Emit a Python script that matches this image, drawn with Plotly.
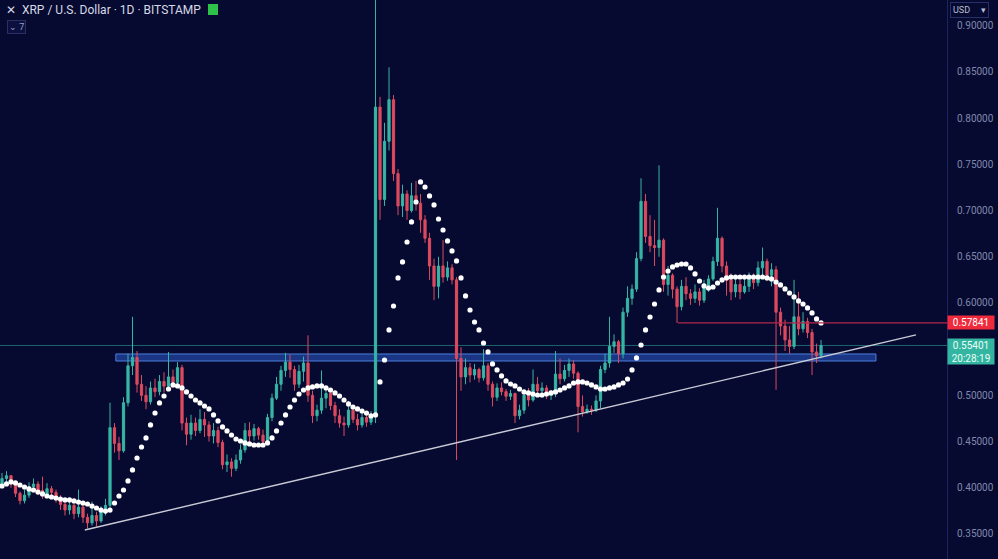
import plotly.graph_objects as go

# ---- data (2-day candles, price in USD) ----
first_open = 0.404
closes = [
    0.410, 0.413, 0.405, 0.394, 0.386, 0.392, 0.401, 0.404, 0.397, 0.393,
    0.399, 0.395, 0.388, 0.382, 0.376, 0.381, 0.372, 0.379, 0.368, 0.362,
    0.370, 0.364, 0.374, 0.381, 0.465, 0.448, 0.440, 0.492, 0.532, 0.541,
    0.512, 0.500, 0.493, 0.508, 0.504, 0.515, 0.510, 0.520, 0.514, 0.530,
    0.470, 0.458, 0.470, 0.462, 0.474, 0.468, 0.456, 0.462, 0.449, 0.425,
    0.428, 0.421, 0.430, 0.441, 0.462, 0.456, 0.464, 0.457, 0.450, 0.476,
    0.497, 0.512, 0.527, 0.536, 0.528, 0.512, 0.526, 0.535, 0.500, 0.478,
    0.484, 0.497, 0.502, 0.489, 0.478, 0.470, 0.468, 0.484, 0.474, 0.468,
    0.476, 0.471, 0.478, 0.812, 0.712, 0.775, 0.820, 0.740, 0.705, 0.718,
    0.700, 0.716, 0.708, 0.690, 0.670, 0.640, 0.618, 0.640, 0.628, 0.638,
    0.625, 0.540, 0.520, 0.530, 0.522, 0.528, 0.519, 0.532, 0.512, 0.498,
    0.508, 0.504, 0.499, 0.502, 0.478, 0.484, 0.500, 0.495, 0.512, 0.505,
    0.508, 0.500, 0.502, 0.523, 0.518, 0.527, 0.534, 0.524, 0.488, 0.482,
    0.485, 0.484, 0.494, 0.528, 0.535, 0.553, 0.558, 0.545, 0.590, 0.605,
    0.615, 0.648, 0.710, 0.672, 0.662, 0.660, 0.668, 0.620, 0.630, 0.615,
    0.596, 0.618, 0.610, 0.605, 0.612, 0.603, 0.618, 0.626, 0.645, 0.670,
    0.640, 0.625, 0.612, 0.620, 0.612, 0.618, 0.628, 0.622, 0.638, 0.645,
    0.630, 0.636, 0.590, 0.575, 0.560, 0.553, 0.585, 0.572, 0.580, 0.568,
    0.547, 0.543, 0.554,
]
highs = [
    0.416, 0.418, 0.414, 0.407, 0.396, 0.398, 0.406, 0.410, 0.407, 0.412,
    0.405, 0.402, 0.398, 0.392, 0.386, 0.385, 0.383, 0.398, 0.382, 0.372,
    0.385, 0.374, 0.380, 0.388, 0.492, 0.470, 0.455, 0.498, 0.545, 0.585,
    0.548, 0.522, 0.510, 0.515, 0.518, 0.522, 0.525, 0.547, 0.528, 0.536,
    0.533, 0.476, 0.479, 0.476, 0.485, 0.482, 0.472, 0.470, 0.466, 0.452,
    0.436, 0.432, 0.436, 0.447, 0.470, 0.471, 0.469, 0.466, 0.463, 0.480,
    0.502, 0.520, 0.532, 0.546, 0.544, 0.532, 0.533, 0.542, 0.565, 0.505,
    0.490, 0.527, 0.510, 0.506, 0.493, 0.485, 0.477, 0.494, 0.489, 0.480,
    0.482, 0.480, 0.483, 0.938, 0.823, 0.795, 0.855, 0.825, 0.745, 0.728,
    0.722, 0.730, 0.732, 0.718, 0.695, 0.676, 0.648, 0.650, 0.668, 0.645,
    0.642, 0.628, 0.552, 0.540, 0.535, 0.534, 0.530, 0.550, 0.535, 0.515,
    0.513, 0.514, 0.507, 0.506, 0.503, 0.490, 0.505, 0.508, 0.528, 0.520,
    0.514, 0.511, 0.506, 0.548, 0.540, 0.533, 0.540, 0.538, 0.526, 0.500,
    0.490, 0.489, 0.500, 0.532, 0.545, 0.585, 0.566, 0.560, 0.595, 0.618,
    0.620, 0.655, 0.735, 0.718, 0.695, 0.690, 0.749, 0.670, 0.640, 0.632,
    0.618, 0.625, 0.628, 0.615, 0.620, 0.616, 0.625, 0.630, 0.650, 0.703,
    0.672, 0.645, 0.632, 0.628, 0.625, 0.630, 0.633, 0.632, 0.645, 0.660,
    0.648, 0.643, 0.640, 0.595, 0.582, 0.575, 0.625, 0.612, 0.590, 0.584,
    0.572, 0.556, 0.560,
]
lows = [
    0.401, 0.405, 0.400, 0.390, 0.382, 0.383, 0.389, 0.397, 0.392, 0.388,
    0.389, 0.388, 0.384, 0.376, 0.370, 0.371, 0.366, 0.368, 0.362, 0.356,
    0.359, 0.358, 0.362, 0.370, 0.378, 0.438, 0.430, 0.438, 0.488, 0.522,
    0.503, 0.494, 0.485, 0.490, 0.498, 0.500, 0.503, 0.506, 0.508, 0.512,
    0.462, 0.446, 0.452, 0.456, 0.459, 0.455, 0.450, 0.448, 0.444, 0.420,
    0.417, 0.412, 0.418, 0.426, 0.438, 0.450, 0.451, 0.452, 0.446, 0.447,
    0.472, 0.495, 0.505, 0.520, 0.519, 0.505, 0.508, 0.515, 0.493, 0.470,
    0.472, 0.480, 0.486, 0.484, 0.470, 0.465, 0.456, 0.465, 0.470, 0.462,
    0.465, 0.466, 0.468, 0.470, 0.690, 0.705, 0.765, 0.732, 0.695, 0.693,
    0.690, 0.698, 0.700, 0.676, 0.665, 0.625, 0.603, 0.605, 0.622, 0.624,
    0.620, 0.430, 0.505, 0.512, 0.514, 0.517, 0.514, 0.516, 0.505, 0.488,
    0.494, 0.500, 0.494, 0.495, 0.470, 0.474, 0.480, 0.488, 0.493, 0.500,
    0.498, 0.496, 0.495, 0.498, 0.512, 0.515, 0.520, 0.518, 0.460, 0.477,
    0.480, 0.479, 0.482, 0.486, 0.524, 0.530, 0.546, 0.535, 0.540, 0.585,
    0.598, 0.612, 0.645, 0.665, 0.655, 0.640, 0.650, 0.612, 0.608, 0.605,
    0.5784, 0.592, 0.603, 0.598, 0.600, 0.597, 0.600, 0.612, 0.624, 0.640,
    0.633, 0.608, 0.603, 0.606, 0.604, 0.610, 0.612, 0.615, 0.618, 0.630,
    0.624, 0.618, 0.506, 0.565, 0.548, 0.545, 0.550, 0.565, 0.568, 0.562,
    0.522, 0.535, 0.540,
]
# moving average (white dotted/solid curve)
ma_values = [
    0.4019, 0.4041, 0.4063, 0.4052, 0.4030, 0.4008, 0.3987, 0.3976, 0.3954, 0.3933,
    0.3911, 0.3900, 0.3889, 0.3878, 0.3868, 0.3868, 0.3857, 0.3846, 0.3835, 0.3824,
    0.3802, 0.3781, 0.3759, 0.3748, 0.3759, 0.3835, 0.3911, 0.3976, 0.4074, 0.4193,
    0.4322, 0.4441, 0.4539, 0.4680, 0.4809, 0.4918, 0.4993, 0.5069, 0.5113, 0.5102,
    0.5080, 0.5037, 0.4993, 0.4950, 0.4918, 0.4885, 0.4853, 0.4788, 0.4723, 0.4658,
    0.4615, 0.4571, 0.4528, 0.4506, 0.4485, 0.4474, 0.4463, 0.4463, 0.4463, 0.4485,
    0.4539, 0.4615, 0.4701, 0.4788, 0.4874, 0.4950, 0.5015, 0.5058, 0.5080, 0.5091,
    0.5102, 0.5102, 0.5080, 0.5058, 0.5026, 0.4993, 0.4950, 0.4907, 0.4874, 0.4853,
    0.4831, 0.4809, 0.4777, 0.4788, 0.5145, 0.5383, 0.5708, 0.5967, 0.6271, 0.6444,
    0.6660, 0.6877, 0.7093, 0.7310, 0.7255, 0.7158, 0.7061, 0.6909, 0.6790, 0.6671,
    0.6563, 0.6455, 0.6271, 0.6076, 0.5924, 0.5794, 0.5708, 0.5567, 0.5470, 0.5340,
    0.5275, 0.5210, 0.5156, 0.5123, 0.5102, 0.5069, 0.5037, 0.5026, 0.5015, 0.5004,
    0.5004, 0.5015, 0.5026, 0.5037, 0.5058, 0.5080, 0.5102, 0.5134, 0.5145, 0.5145,
    0.5134, 0.5113, 0.5091, 0.5069, 0.5069, 0.5080, 0.5091, 0.5113, 0.5134, 0.5177,
    0.5275, 0.5405, 0.5545, 0.5708, 0.5848, 0.5989, 0.6141, 0.6281, 0.6346, 0.6390,
    0.6411, 0.6422, 0.6422, 0.6379, 0.6314, 0.6238, 0.6184, 0.6162, 0.6173, 0.6216,
    0.6249, 0.6271, 0.6281, 0.6281, 0.6281, 0.6281, 0.6281, 0.6281, 0.6281, 0.6281,
    0.6271, 0.6260, 0.6227, 0.6195, 0.6152, 0.6108, 0.6065, 0.6022, 0.5989, 0.5946,
    0.5892, 0.5827, 0.5784,
]
opens = [first_open] + closes[:-1]
bars = list(range(len(closes)))

# drawings on the chart (bar index, price)
trend_start = (18.4, 0.3543)
trend_end = (203.1, 0.5654)
zone_x = (25.3, 194.2)
zone_price = (0.5372, 0.5448)
resistance_price = 0.57841
resistance_start = 150.2
last_price = 0.55401
countdown = "20:28:19"
ytick_vals = [0.35, 0.40, 0.45, 0.50, 0.60, 0.65, 0.70, 0.75, 0.80, 0.85, 0.90]
ytick_text = ["%.5f" % v for v in ytick_vals]

BG = "#070a30"
FONT = "Roboto, Arial, sans-serif"
X_RANGE = [-0.444, 209.99]

fig = go.Figure()
fig.add_trace(go.Candlestick(
    x=bars, open=opens, high=highs, low=lows, close=closes,
    increasing=dict(line=dict(color="#36b5a4", width=1), fillcolor="#36b5a4"),
    decreasing=dict(line=dict(color="#dc4a5f", width=1), fillcolor="#dc4a5f"),
    showlegend=False, hoverinfo="skip",
))
fig.add_trace(go.Scatter(
    x=bars, y=ma_values, mode="markers",
    marker=dict(size=5.2, color="white", line=dict(width=0)),
    showlegend=False, hoverinfo="skip",
))

shapes = [
    # current price line
    dict(type="line", xref="paper", x0=0, x1=1, yref="y", y0=last_price, y1=last_price,
         line=dict(color="rgba(47,179,162,0.55)", width=1), layer="below"),
    # support zone
    dict(type="rect", xref="x", x0=zone_x[0], x1=zone_x[1], yref="y",
         y0=zone_price[0], y1=zone_price[1],
         fillcolor="rgba(40,90,200,0.55)", line=dict(color="#4b7fdc", width=1), layer="below"),
    # resistance line
    dict(type="line", xref="x", x0=resistance_start, x1=X_RANGE[1], yref="y",
         y0=resistance_price, y1=resistance_price, line=dict(color="#b3264a", width=1.2)),
    # trend line
    dict(type="line", xref="x", yref="y", x0=trend_start[0], y0=trend_start[1],
         x1=trend_end[0], y1=trend_end[1], line=dict(color="#c9cad6", width=1.4)),
    # flag icon
    dict(type="rect", xref="paper", yref="paper", x0=208 / 947, x1=218 / 947,
         y0=1 - 15 / 559, y1=1 - 4 / 559, fillcolor="#2fc24b", line=dict(width=0)),
]

annotations = [
    dict(xref="paper", yref="paper", x=0.004, y=1 - 10 / 559, xanchor="left", yanchor="middle",
         text="✕  XRP / U.S. Dollar · 1D · BITSTAMP", showarrow=False,
         font=dict(family=FONT, size=12, color="#d6d9e6")),
    dict(xref="paper", yref="paper", x=0.007, y=1 - 27 / 559, xanchor="left", yanchor="middle",
         text="⌄ 7", showarrow=False, font=dict(family=FONT, size=9, color="#9aa0c0"),
         bordercolor="#2a2f5e", borderwidth=1, borderpad=1, bgcolor="#0c1040"),
    dict(xref="paper", yref="paper", x=1.003, y=1 - 10 / 559, xanchor="left", yanchor="middle",
         text="USD&nbsp;&nbsp;&nbsp;&nbsp;&nbsp;▾", showarrow=False, align="left",
         font=dict(family=FONT, size=9, color="#b8bdd6"),
         bordercolor="#263066", borderwidth=1, borderpad=2, bgcolor=BG),
    dict(xref="paper", yref="y", x=1.0, y=resistance_price, xanchor="left", yanchor="middle",
         text=("%.5f" % resistance_price), showarrow=False, width=44, height=11,
         font=dict(family=FONT, size=10, color="white"), bgcolor="#ef2a3c", borderpad=1),
    dict(xref="paper", yref="y", x=1.0, y=last_price + 0.0085, xanchor="left", yanchor="top",
         text=("%.5f" % last_price) + "<br>" + countdown, showarrow=False, width=44, height=23,
         font=dict(family=FONT, size=10, color="#eafff9"), bgcolor="#34b5a1", borderpad=1),
]

fig.update_layout(
    width=998, height=559,
    margin=dict(l=0, r=51, t=0, b=0),
    paper_bgcolor=BG, plot_bgcolor=BG,
    shapes=shapes, annotations=annotations,
    showlegend=False,
    xaxis=dict(range=X_RANGE, showgrid=False, zeroline=False, showticklabels=False,
               showline=False, rangeslider=dict(visible=False), fixedrange=True),
    yaxis=dict(range=[0.3229, 0.9279], side="right", showgrid=False, zeroline=False,
               tickvals=ytick_vals, ticktext=ytick_text, ticks="",
               tickfont=dict(family=FONT, size=10, color="#8088ae"),
               showline=True, linecolor="#1d2658", linewidth=1, ticklabelstandoff=7,
               fixedrange=True),
)

fig.write_html(
    "out.html",
    config={"displayModeBar": False},
    post_script="document.body.style.margin='0';document.body.style.padding='0';"
                "document.body.style.background='" + BG + "';",
)
